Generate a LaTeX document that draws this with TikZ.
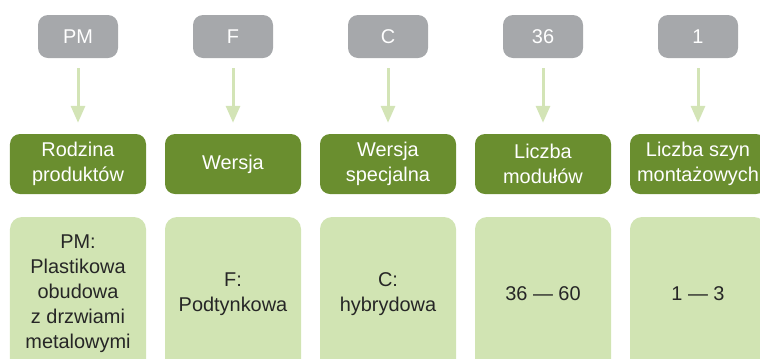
\documentclass[tikz,border=0pt]{standalone}
\usepackage{fontspec}
\setmainfont{Liberation Sans}
\usetikzlibrary{arrows.meta}

\definecolor{codegray}{HTML}{A6A8AB}
\definecolor{darkgreen}{HTML}{6A8E2F}
\definecolor{lightgreen}{HTML}{D1E4B3}
\definecolor{arrowgreen}{HTML}{D3E4B6}
\definecolor{textgray}{HTML}{262626}

\begin{document}
\begin{tikzpicture}[x=1bp,y=-1bp,
		every node/.style={font=\fontsize{20}{25}\selectfont, align=center, inner sep=0pt},
		codebox/.style={fill=codegray, text=white, rounded corners=10bp, minimum width=80bp, minimum height=43bp},
		labelbox/.style={fill=darkgreen, text=white, rounded corners=10bp, minimum width=136bp, minimum height=60bp},
		descbox/.style={fill=lightgreen, text=textgray, rounded corners=12bp, minimum width=136bp, minimum height=154bp},
		arr/.style={arrowgreen, line width=3bp, shorten <=10bp, shorten >=11bp, -{Triangle[width=14bp,length=17bp]}}]
		\useasboundingbox (0,0) rectangle (760,358);
		\clip (0,0) rectangle (760,358);
		\foreach \code/\name/\desc [count=\xi from 0] in {
			{PM}/{Rodzina\\produktów}/{PM:\\Plastikowa\\obudowa\\z drzwiami\\metalowymi},
			{F}/{Wersja}/{F:\\Podtynkowa},
			{C}/{Wersja\\specjalna}/{C:\\hybrydowa},
			{36}/{Liczba\\modułów}/{36 --- 60},
			{1}/{Liczba szyn\\montażowych}/{1 --- 3}}
		{
			\node[codebox] (code\xi) at (78+155*\xi,36.5) {\code};
			\node[labelbox] (label\xi) at (78+155*\xi,164) {\name};
			\node[descbox] (desc\xi) at (78+155*\xi,294) {\desc};
			\draw[arr] (code\xi) -- (label\xi);
		}
\end{tikzpicture}
\end{document}
